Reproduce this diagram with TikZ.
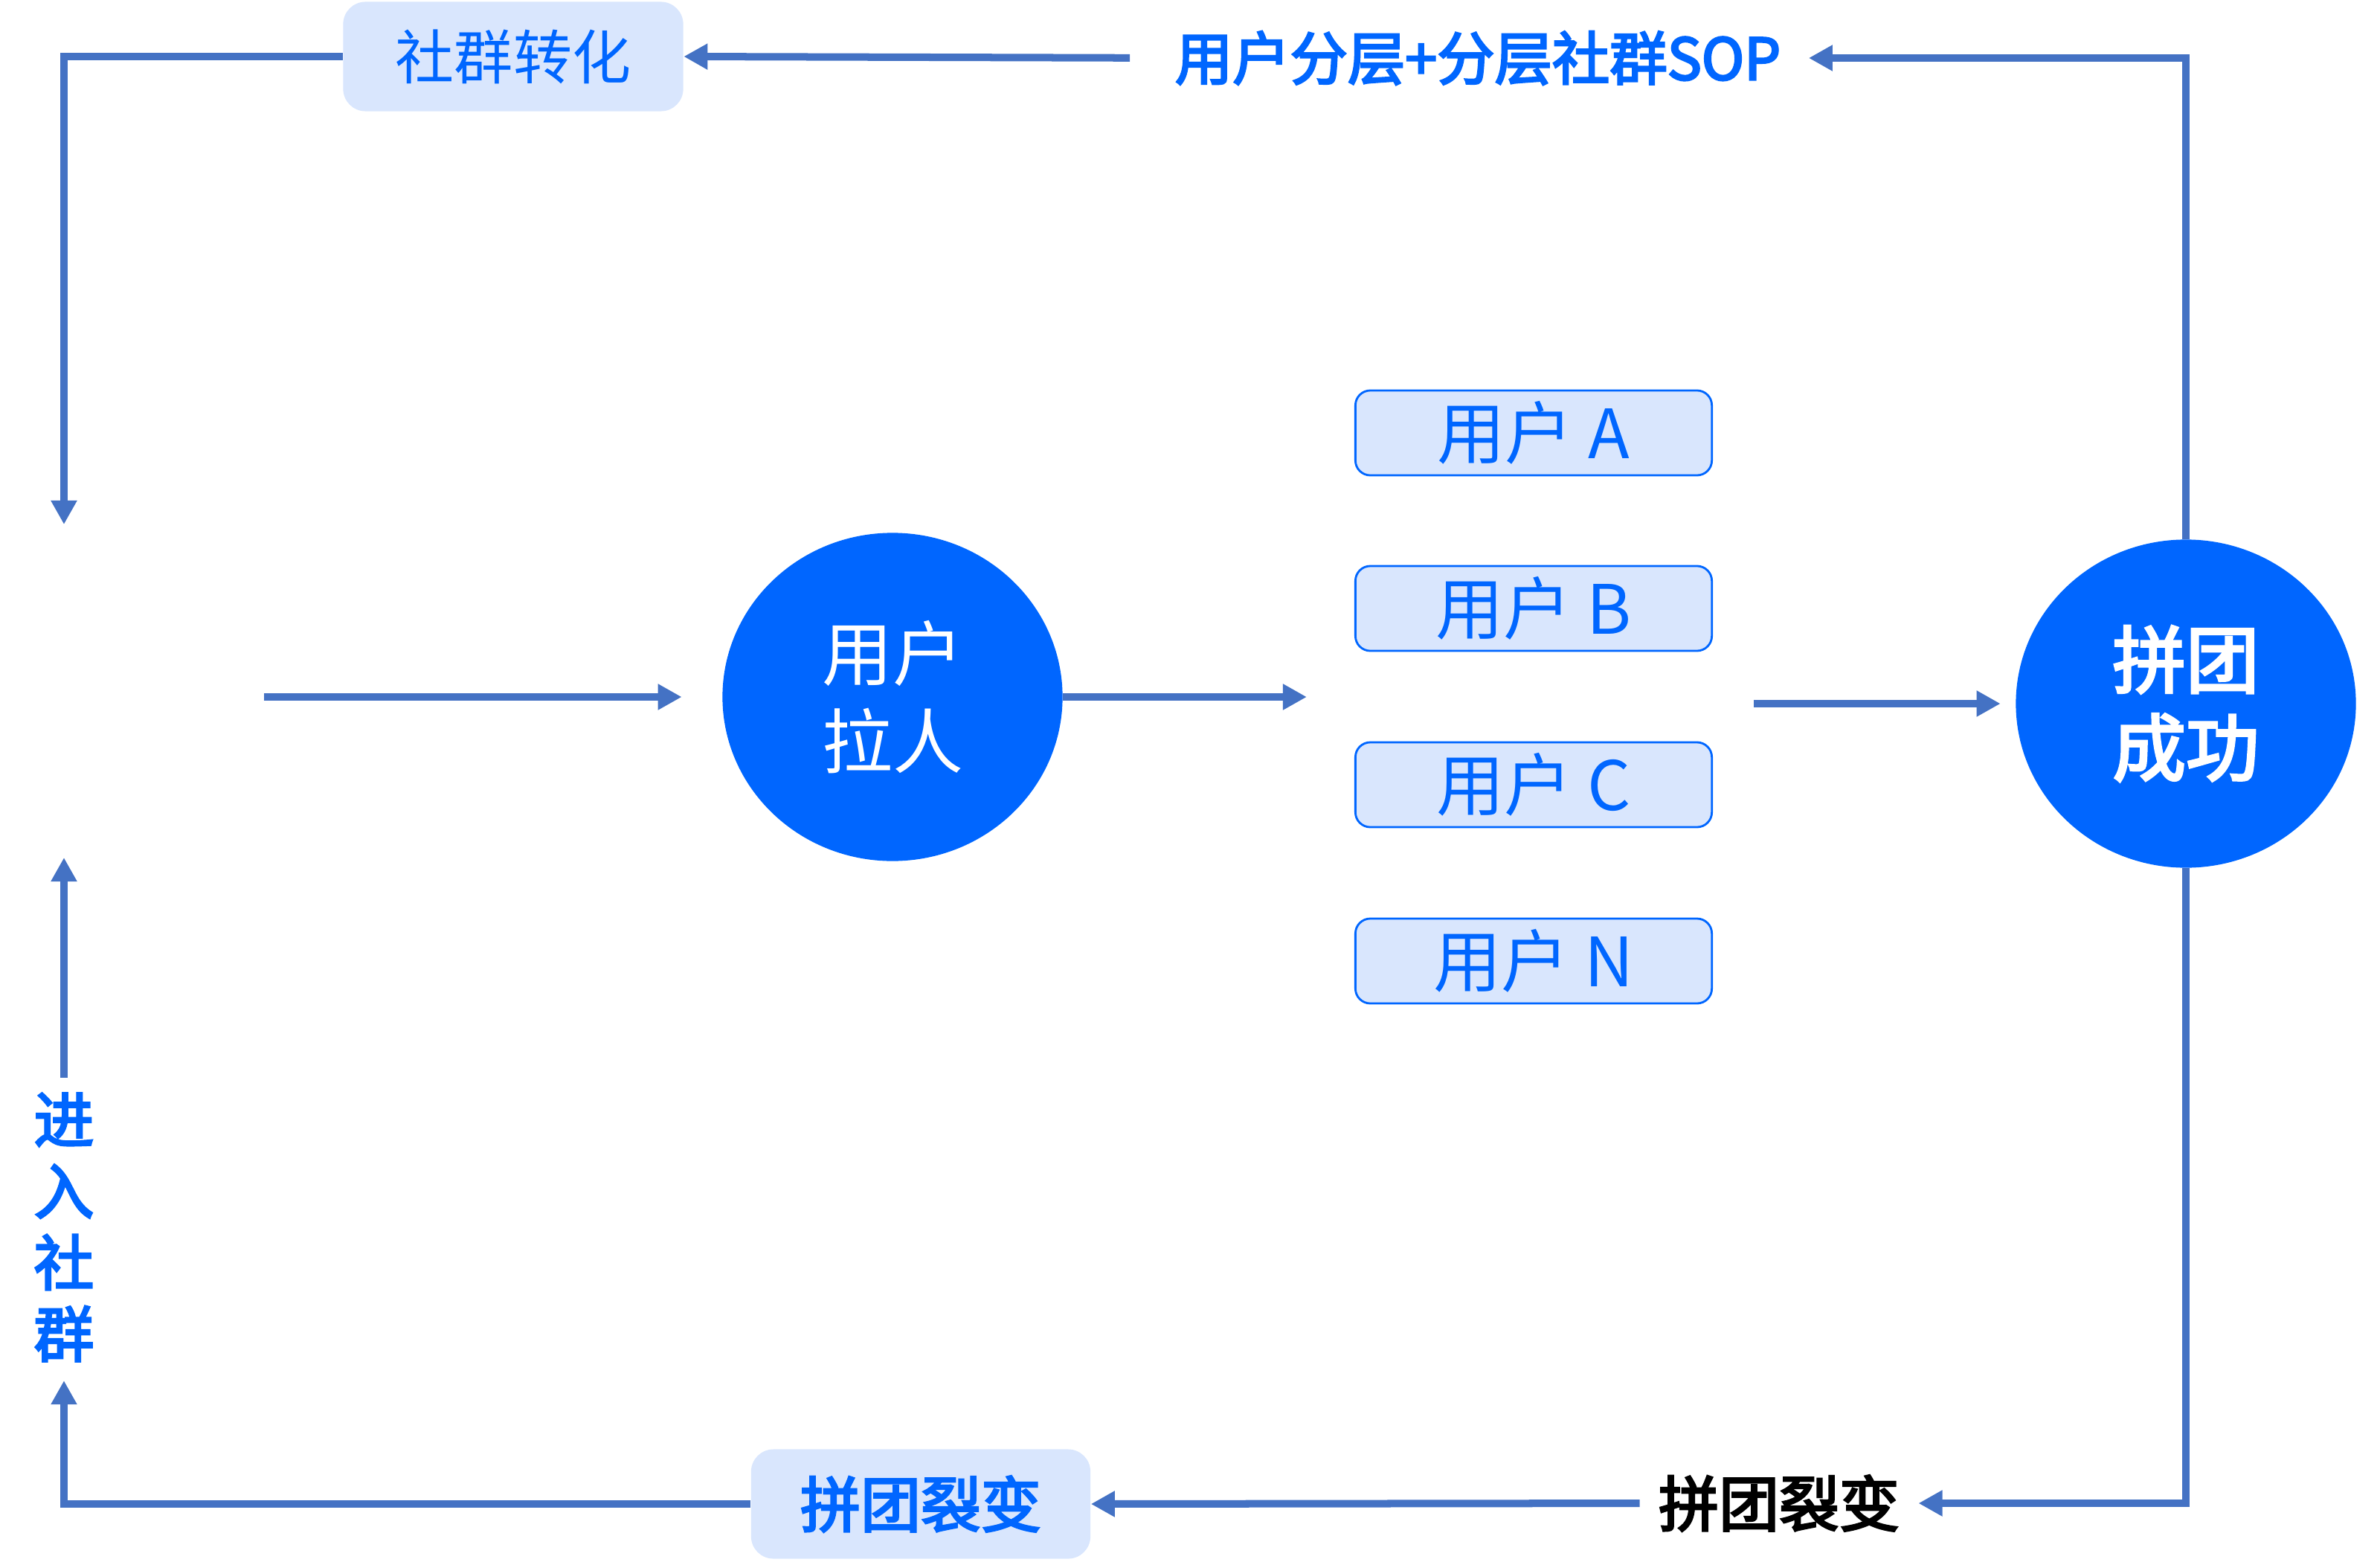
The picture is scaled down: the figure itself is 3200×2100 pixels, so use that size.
\documentclass[tikz,border=0pt]{standalone}
\usepackage{fontspec}
\usepackage{tikz}
\usetikzlibrary{arrows.meta,calc,positioning,shapes.geometric}
\newfontfamily\cjk{Noto Sans CJK SC}
\newfontfamily\cjkm[FakeBold=3.5]{Noto Sans CJK SC}
\definecolor{lnc}{RGB}{68,114,196}
\definecolor{ink}{RGB}{0,102,255}
\definecolor{pale}{RGB}{217,230,253}

\begin{document}
\begin{tikzpicture}[x=0.01cm,y=-0.01cm,>={Triangle[length=0.32cm,width=0.33cm]},
  flow/.style={->,draw=lnc,line width=1mm},
  tag/.style={fill=pale,rounded corners=0.3cm,text=ink,inner sep=0pt,font=\cjk\fontsize{22.5pt}{27pt}\selectfont},
  user/.style={draw=ink,line width=0.8pt,fill=pale,rounded corners=0.2cm,minimum width=4.79cm,minimum height=1.14cm,inner sep=0pt,text=ink,font=\cjk\fontsize{26pt}{30pt}\selectfont},
  hub/.style={ellipse,fill=ink,text=white,minimum width=4.57cm,minimum height=4.41cm,inner sep=0pt,align=center}]
  \useasboundingbox (0,0) rectangle (3200,2100);
  % nodes
  \node[tag,minimum width=4.57cm,minimum height=1.47cm] (conv) at (690,76) {社群转化};
  \node[tag,minimum width=4.56cm,minimum height=1.47cm,font=\cjkm\fontsize{23pt}{27pt}\selectfont] (split) at (1238,2022) {拼团裂变};
  \node[text=ink,inner sep=0pt,font=\cjkm\fontsize{22pt}{26pt}\selectfont] (sop) at (1987,78) {用户分层+分层社群SOP};
  \node[inner sep=0pt,font=\cjkm\fontsize{23pt}{27pt}\selectfont] (share) at (2392,2021) {拼团裂变};
  \node[text=ink,inner sep=0pt,align=center,font=\cjkm\fontsize{23pt}{27.3pt}\selectfont] (enter) at (86,1650) {进\\入\\社\\群};
  \node[hub,font=\cjk\fontsize{27pt}{33.6pt}\selectfont] (pull) at (1200,937) {\raisebox{5pt}{\parbox{3cm}{\centering 用户\\拉人}}};
  \node[hub,font=\cjkm\fontsize{28pt}{33.6pt}\selectfont] (succ) at (2939,946) {\raisebox{5pt}{\parbox{3cm}{\centering 拼团\\成功}}};
  \node[user] (uA) at (2062,582) {用户 A};
  \node[user] (uB) at (2062,818) {用户 B};
  \node[user] (uC) at (2062,1055) {用户 C};
  \node[user] (uN) at (2062,1292) {用户 N};
  \coordinate (ctop) at (86,705); \coordinate (cin) at (86,1153); \coordinate (cmid) at (355,937);
  % connectors
  \draw[flow] (conv.west) -| (ctop);
  \draw[flow,shorten <=0.6cm] (sop.west) -- (conv.east);
  \draw[flow,shorten >=0.37cm] (succ.north) |- (sop.east);
  \draw[flow,shorten >=0.54cm] (cmid) -- (pull.west);
  \draw[flow,shorten >=0.64cm] (pull.east) -- (pull.east -| uB.west);
  \draw[flow,shorten <=0.55cm,shorten >=0.2cm] (uB.east |- succ.west) -- (succ.west);
  \draw[flow,shorten >=0.25cm] (succ.south) |- (share.east);
  \draw[flow,shorten <=0.25cm] (share.west) -- (split.east);
  \draw[flow,shorten >=0.25cm] (split.west) -| (enter.south);
  \draw[flow,shorten <=0.2cm] (enter.north) -- (cin);
\end{tikzpicture}
\end{document}
